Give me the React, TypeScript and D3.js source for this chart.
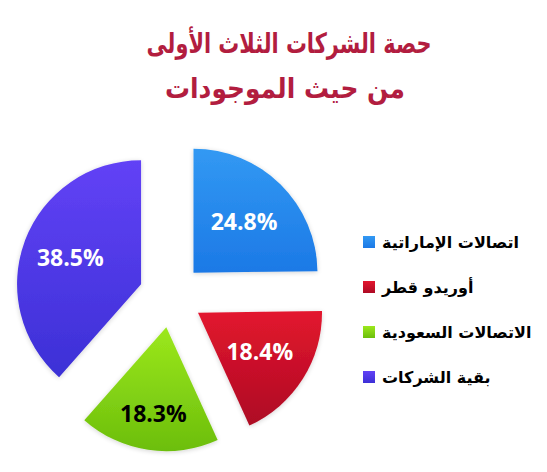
import React from "react";
import * as d3 from "d3";

const categories = ["اتصالات الإماراتية", "أوريدو قطر", "الاتصالات السعودية", "بقية الشركات"];
const values = [24.8, 18.4, 18.3, 38.5];
const labels = ["24.8%", "18.4%", "18.3%", "38.5%"];
const titleLines = ["حصة الشركات الثلاث الأولى", "من حيث الموجودات"];
const colorsTop = ["#3299f3", "#e3162e", "#9ce81c", "#6242f6"];
const colorsBottom = ["#1c79e6", "#ad0a24", "#6cbe0c", "#3c30d6"];
const labelColors = ["#ffffff", "#ffffff", "#000000", "#ffffff"];

const W = 547;
const H = 472;

export default function App() {
  const cx = 171;
  const cy = 295.5;
  const r = 124;
  const explode = 32;
  const pie = d3.pie<number>().sort(null).value((d) => d);
  const arcs = pie(values);
  const arc = d3.arc<d3.PieArcDatum<number>>().innerRadius(0).outerRadius(r);
  const labelFactor = [0.58, 0.59, 0.71, 0.61];
  const titleX = [289, 285];
  const titleW = [285, 240];

  const legendY = d3.scalePoint<string>().domain(categories).range([242, 377]);

  return (
    <svg width={W} height={H} style={{ position: "absolute", left: 0, top: 0, background: "#fff" }}>
      <defs>
        {arcs.map((a, i) => (
          <linearGradient key={i} id={`g${i}`} x1="0" y1="0" x2="0" y2="1">
            <stop offset="0%" stopColor={colorsTop[i]} />
            <stop offset="100%" stopColor={colorsBottom[i]} />
          </linearGradient>
        ))}
        <filter id="sh" x="-20%" y="-20%" width="140%" height="140%">
          <feGaussianBlur in="SourceAlpha" stdDeviation="2.5" />
          <feOffset dx="0" dy="1" result="b" />
          <feComponentTransfer>
            <feFuncA type="linear" slope="0.18" />
          </feComponentTransfer>
          <feMerge>
            <feMergeNode />
            <feMergeNode in="SourceGraphic" />
          </feMerge>
        </filter>
      </defs>
      {titleLines.map((t, i) => (
        <text
          key={i}
          x={titleX[i]}
          y={53 + i * 45}
          textAnchor="middle"
          fontFamily="DejaVu Sans"
          fontWeight="bold"
          fontSize={28}
          fill="#b21d3f"
          textLength={titleW[i]}
          lengthAdjust="spacingAndGlyphs"
        >
          {t}
        </text>
      ))}
      {arcs.map((a, i) => {
        const mid = (a.startAngle + a.endAngle) / 2;
        const dx = Math.sin(mid) * explode;
        const dy = -Math.cos(mid) * explode;
        const lr = r * labelFactor[i];
        const lx = Math.sin(mid) * lr;
        const ly = -Math.cos(mid) * lr;
        return (
          <g key={i} transform={`translate(${cx + dx},${cy + dy})`}>
            <path d={arc(a) || ""} fill={`url(#g${i})`} filter="url(#sh)" />
            <text
              x={lx}
              y={ly}
              dy="0.35em"
              textAnchor="middle"
              fontFamily="Open Sans"
              fontWeight="bold"
              fontSize={23}
              fill={labelColors[i]}
            >
              {labels[i]}
            </text>
          </g>
        );
      })}
      {categories.map((c, i) => {
        const y = legendY(c) as number;
        return (
          <g key={c}>
            <rect x={363} y={y - 6} width={12} height={12} fill={`url(#g${i})`} />
            <text
              x={382}
              y={y}
              dy="0.35em"
              textAnchor="start"
              fontFamily="DejaVu Sans"
              fontWeight="bold"
              fontSize={16}
              fill="#000"
            >
              {c}
            </text>
          </g>
        );
      })}
    </svg>
  );
}
